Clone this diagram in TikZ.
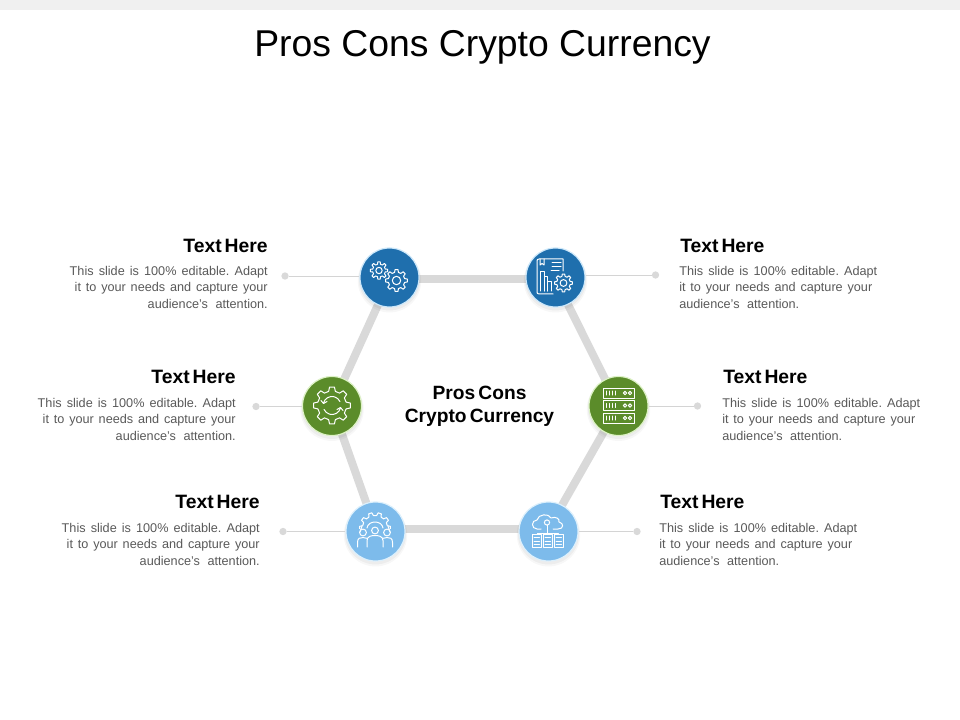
\documentclass[tikz,border=0pt]{standalone}
\usepackage{fontspec}
\setmainfont{Liberation Sans}
\frenchspacing
\usetikzlibrary{backgrounds,arrows.meta}
\definecolor{hexgray}{HTML}{D9D9D9}
\definecolor{leadgray}{HTML}{D4D4D4}
\definecolor{bodygray}{HTML}{595959}
\definecolor{cblue}{HTML}{1F6FAD}
\definecolor{cgreen}{HTML}{5B8C2A}
\definecolor{clight}{HTML}{7DBBEB}
\definecolor{rblue}{HTML}{CDE8FA}
\definecolor{rgreen}{HTML}{DDF2C6}
\definecolor{rlight}{HTML}{DDF0FC}
\tikzset{
  x=0.75pt,y=-0.75pt,
  hub/.style={circle,minimum size=44.25pt,inner sep=0pt,line width=0.9pt},
  hubblue/.style={hub,fill=cblue,draw=rblue},
  hubgreen/.style={hub,fill=cgreen,draw=rgreen},
  hublight/.style={hub,fill=clight,draw=rlight},
  hexline/.style={draw=hexgray,line width=6pt},
  leader/.style={draw=leadgray,line width=0.6pt},
  enddot/.style={circle,fill=hexgray,minimum size=5.5pt,inner sep=0pt},
  heading/.style={font=\fontsize{14.5}{16}\selectfont\bfseries,inner sep=0pt,text=black},
  bodyr/.style={font=\fontsize{9.5}{12.25}\selectfont,text=bodygray,inner sep=0pt,align=right,anchor=north east},
  bodyl/.style={font=\fontsize{9.5}{12.25}\selectfont,text=bodygray,inner sep=0pt,align=left,anchor=north west},
  icon/.style={draw=white,line width=0.75pt,line join=round,line cap=round},
}
\newcommand{\fitline}[2]{\makebox[\dimexpr#1pt*3/4\relax][s]{#2}}
\newcommand{\bodyR}{\fitline{198}{This slide is 100\% editable. Adapt}\\\fitline{193}{it to your needs and capture your}\\\fitline{120}{audience's attention.}}
\newcommand{\hd}{Text\hspace{2.2pt}Here}
% cx, cy, outer radius, inner radius, teeth
\newcommand{\gearicon}[5]{%
  \pgfmathsetmacro{\gS}{360/#5}%
  \draw[icon,shift={(#1,#2)}] ({-0.3*\gS}:#4)
    \foreach \i in {1,...,#5}{
      -- ({(\i-1-0.17)*\gS}:#3) -- ({(\i-1+0.17)*\gS}:#3)
      -- ({(\i-1+0.3)*\gS}:#4) -- ({(\i-0.3)*\gS}:#4)
    } -- cycle;}
\newcommand{\serverrow}[2]{%
  \draw[icon] (#1,#2) rectangle +(31,10);
  \foreach \k in {3.5,6.5,9.5,12.5}{\draw[icon] (#1+\k,#2+3) -- +(0,4);}
  \draw[icon] (#1+22,#2+5) circle (1.7);
  \draw[icon] (#1+27,#2+5) circle (1.7);}
\newcommand{\rack}[1]{%
  \draw[icon] (#1,534) rectangle +(9.5,13.5);
  \foreach \k in {537.5,541,544.5}{\draw[icon] (#1+2,\k) -- +(5.5,0);}}
\newcommand{\person}[3]{%
  \draw[icon] (#1,#2) circle (3.4);
  \draw[icon] (#1-#3,547) -- (#1-#3,#2+10) .. controls (#1-#3,#2+5.5) and (#1-3,#2+5) .. (#1,#2+5) .. controls (#1+3,#2+5) and (#1+#3,#2+5.5) .. (#1+#3,#2+10) -- (#1+#3,547);}
\begin{document}
\begin{tikzpicture}
\useasboundingbox (0,0) rectangle (960,720);
\fill[black!6] (0,0) rectangle (960,10);
\node[font=\fontsize{28}{32}\selectfont,anchor=base,inner sep=0pt] (title) at (482.5,57) {Pros Cons Crypto Currency};

% hubs
\node[hubblue]  (tl) at (389.5,277.5) {};
\node[hubblue]  (tr) at (555.5,277.5) {};
\node[hubgreen] (ml) at (332,406) {};
\node[hubgreen] (mr) at (618.5,406) {};
\node[hublight] (bl) at (375.5,531.5) {};
\node[hublight] (br) at (548.5,531.5) {};

\begin{pgfonlayer}{background}
  \draw[hexline] ([yshift=-1.5pt]tl.center) -- ([yshift=-1.5pt]tr.center);
  \draw[hexline] ([yshift=-1.5pt]tr.center) -- (mr.center);
  \draw[hexline] (mr.center) -- ([yshift=1.9pt]br.center);
  \draw[hexline] ([yshift=1.9pt]br.center) -- ([yshift=1.9pt]bl.center);
  \draw[hexline] ([yshift=1.9pt]bl.center) -- (ml.center);
  \draw[hexline] (ml.center) -- ([yshift=-1.5pt]tl.center);
  \foreach \n in {tl,tr,ml,mr,bl,br}{
    \fill[black,opacity=0.03] ([yshift=-2.4pt]\n.center) circle (23.8pt);
    \fill[black,opacity=0.04] ([yshift=-1.7pt]\n.center) circle (23pt);
  }
\end{pgfonlayer}

% leader dots and lines
\node[enddot] (dtl) at (285,276) {};
\node[enddot] (dtr) at (655.5,275) {};
\node[enddot] (dml) at (256,406.5) {};
\node[enddot] (dmr) at (697.5,406) {};
\node[enddot] (dbl) at (283,531.5) {};
\node[enddot] (dbr) at (637,531.5) {};
\draw[leader] (dtl) -- (dtl -| tl.west);
\draw[leader] (dtr) -- (dtr -| tr.east);
\draw[leader] (dml) -- (dml -| ml.west);
\draw[leader] (dmr) -- (dmr -| mr.east);
\draw[leader] (dbl) -- (dbl -| bl.west);
\draw[leader] (dbr) -- (dbr -| br.east);

% centre label
\node[font=\fontsize{14.4}{17.2}\selectfont\bfseries,align=center,inner sep=0pt] (centre) at (479.5,406)
  {Pros\hspace{2.4pt}Cons\\Crypto\hspace{2.4pt}Currency};

% text blocks
\node[heading,anchor=base east] (h1) at (268,252.5) {\hd};
\node[bodyr] (b1) at (268,266.2) {\bodyR};
\node[heading,anchor=base east] (h2) at (236,383.5) {\hd};
\node[bodyr] (b2) at (236,398.2) {\bodyR};
\node[heading,anchor=base east] (h3) at (260,508.5) {\hd};
\node[bodyr] (b3) at (260,523.2) {\bodyR};
\node[heading,anchor=base west] (h4) at (680,252.5) {\hd};
\node[bodyl] (b4) at (679,266.2) {\bodyR};
\node[heading,anchor=base west] (h5) at (723,383.5) {\hd};
\node[bodyl] (b5) at (722,398.2) {\bodyR};
\node[heading,anchor=base west] (h6) at (660,508.5) {\hd};
\node[bodyl] (b6) at (659,523.2) {\bodyR};

% icon: two gears
\gearicon{379}{270.5}{8.8}{6.4}{8}
\draw[icon] (379,270.5) circle (3.2);
\gearicon{396.5}{280.5}{11}{8.3}{8}
\draw[icon] (396.5,280.5) circle (4.2);

% icon: report with gear
\draw[icon] (553,294) -- (539,294) .. controls (537.5,294) and (537,293) .. (537,292) -- (537,261) .. controls (537,260) and (537.5,259) .. (539,259) -- (563,259) -- (563,271);
\draw[icon] (540,259) -- (540,265) -- (542,263.5) -- (544,265) -- (544,259);
\draw[icon] (552,263) -- (561,263);
\draw[icon] (552,267) -- (561,267);
\draw[icon] (551,271) -- (559,271);
\draw[icon] (540,291) -- (540,272) -- (544,272) -- (544,291);
\draw[icon] (544,291) -- (544,277) -- (547.5,277) -- (547.5,291);
\draw[icon] (547.5,291) -- (547.5,282) -- (551.5,282) -- (551.5,291);
\gearicon{563.5}{283}{9}{6.8}{8}
\draw[icon] (563.5,283) circle (3.4);

% icon: process gear
\gearicon{332}{405.5}{18.5}{14.5}{8}
\draw[icon] (323.5,403) arc (195:335:8.8);
\draw[icon] (340.5,408) arc (15:155:8.8);
\draw[icon] (321,400.5) -- (323.5,403.5) -- (327,401.5);
\draw[icon] (343,410.5) -- (340.5,407.5) -- (337,409.5);

% icon: server stack
\serverrow{603}{388}
\serverrow{603}{400.5}
\serverrow{603}{413}

% icon: team in gear
\gearicon{375}{528}{15.5}{12.5}{10}
\fill[clight] (355,529) rectangle (395,549);
\draw[icon] (362,526) -- (360,532);
\draw[icon] (388,526) -- (390,532);
\draw[icon] (367,528) .. controls (368,520) and (382,520) .. (383,528);
\person{363}{532.5}{5.5}
\person{387}{532.5}{5.5}
\fill[clight] (367,536) rectangle (383,549);
\person{375}{530.5}{8}

% icon: cloud servers
\draw[icon] (541,529) -- (537,529) .. controls (531,529) and (531,520) .. (537,520) .. controls (538,514) and (549,513) .. (551,518) .. controls (556,516) and (560,519) .. (559,522) .. controls (564,523) and (564,529) .. (558,529) -- (553,529);
\draw[icon] (547,522.5) circle (2.6);
\draw[icon] (547,525.1) -- (547,534);
\draw[icon] (537,534) -- (537,533) -- (558,533) -- (558,534);
\rack{532}
\rack{543}
\rack{554}
\end{tikzpicture}
\end{document}
